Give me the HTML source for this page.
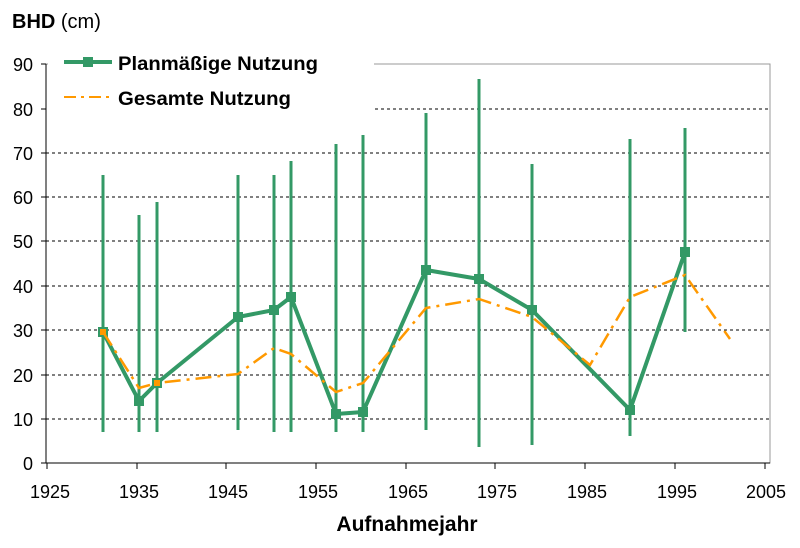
<!DOCTYPE html>
<html><head><meta charset="utf-8"><style>
body{margin:0;background:#fff}
svg{display:block;font-family:"Liberation Sans",Arial,sans-serif}
</style></head><body>
<svg width="800" height="548" viewBox="0 0 800 548" xmlns="http://www.w3.org/2000/svg">
<rect x="46" y="64" width="724" height="399" fill="#fff" stroke="#999" stroke-width="1"/>
<g stroke="#000" stroke-width="1" stroke-dasharray="3,3">
<line x1="46" y1="419" x2="770" y2="419"/>
<line x1="46" y1="375" x2="770" y2="375"/>
<line x1="46" y1="330" x2="770" y2="330"/>
<line x1="46" y1="286" x2="770" y2="286"/>
<line x1="46" y1="241" x2="770" y2="241"/>
<line x1="46" y1="197" x2="770" y2="197"/>
<line x1="46" y1="153" x2="770" y2="153"/>
<line x1="375" y1="109" x2="770" y2="109"/>
</g>
<line x1="375" y1="64" x2="770" y2="64" stroke="#999"/>
<g stroke="#000" stroke-width="1">
<line x1="46" y1="64" x2="46" y2="463"/>
<line x1="46" y1="463" x2="770" y2="463"/>
<line x1="41" y1="463" x2="46" y2="463"/><line x1="41" y1="419" x2="46" y2="419"/><line x1="41" y1="375" x2="46" y2="375"/><line x1="41" y1="330" x2="46" y2="330"/><line x1="41" y1="286" x2="46" y2="286"/><line x1="41" y1="241" x2="46" y2="241"/><line x1="41" y1="197" x2="46" y2="197"/><line x1="41" y1="153" x2="46" y2="153"/><line x1="41" y1="109" x2="46" y2="109"/><line x1="41" y1="64" x2="46" y2="64"/>
<line x1="47" y1="463" x2="47" y2="469"/><line x1="137" y1="463" x2="137" y2="469"/><line x1="226" y1="463" x2="226" y2="469"/><line x1="316" y1="463" x2="316" y2="469"/><line x1="406" y1="463" x2="406" y2="469"/><line x1="495" y1="463" x2="495" y2="469"/><line x1="585" y1="463" x2="585" y2="469"/><line x1="675" y1="463" x2="675" y2="469"/><line x1="765" y1="463" x2="765" y2="469"/>
</g>
<g font-size="18" text-anchor="end" fill="#000">
<text x="33" y="470">0</text><text x="33" y="426">10</text><text x="33" y="382">20</text><text x="33" y="337">30</text><text x="33" y="293">40</text><text x="33" y="248">50</text><text x="33" y="204">60</text><text x="33" y="160">70</text><text x="33" y="116">80</text><text x="33" y="71">90</text>
</g>
<g font-size="18" text-anchor="middle" fill="#000">
<text x="50" y="498">1925</text><text x="139" y="498">1935</text><text x="228" y="498">1945</text><text x="318" y="498">1955</text><text x="408" y="498">1965</text><text x="497" y="498">1975</text><text x="587" y="498">1985</text><text x="677" y="498">1995</text><text x="766" y="498">2005</text>
</g>
<text x="407" y="531" font-size="21" font-weight="bold" text-anchor="middle">Aufnahmejahr</text>
<text x="12" y="28" font-size="20"><tspan font-weight="bold">BHD</tspan> (cm)</text>
<g stroke="#339966" stroke-width="3">
<line x1="103" y1="175" x2="103" y2="432"/>
<line x1="139" y1="215" x2="139" y2="432"/>
<line x1="157" y1="202" x2="157" y2="432"/>
<line x1="238" y1="175" x2="238" y2="430"/>
<line x1="274" y1="175" x2="274" y2="432"/>
<line x1="291" y1="161" x2="291" y2="432"/>
<line x1="336" y1="144" x2="336" y2="432"/>
<line x1="363" y1="135" x2="363" y2="432"/>
<line x1="426" y1="113" x2="426" y2="430"/>
<line x1="479" y1="79" x2="479" y2="447"/>
<line x1="532" y1="164" x2="532" y2="445"/>
<line x1="630" y1="139" x2="630" y2="436"/>
<line x1="685" y1="128" x2="685" y2="332"/>
</g>
<polyline fill="none" stroke="#339966" stroke-width="4" stroke-linejoin="round" points="103,332 139,401 157,383 238,317 274,310 291,297 336,414 363,412 426,270 479,279 532,310 630,410 685,252"/>
<g fill="#339966">
<rect x="98" y="327" width="10" height="10"/><rect x="134" y="396" width="10" height="10"/><rect x="152" y="378" width="10" height="10"/><rect x="233" y="312" width="10" height="10"/><rect x="269" y="305" width="10" height="10"/><rect x="286" y="292" width="10" height="10"/><rect x="331" y="409" width="10" height="10"/><rect x="358" y="407" width="10" height="10"/><rect x="421" y="265" width="10" height="10"/><rect x="474" y="274" width="10" height="10"/><rect x="527" y="305" width="10" height="10"/><rect x="625" y="405" width="10" height="10"/><rect x="680" y="247" width="10" height="10"/>
</g>
<polyline fill="none" stroke="#ff9900" stroke-width="2.5" stroke-dasharray="16,6,3,6" points="103,332 139,388 157,383 238,374 274,348 291,354 336,392 363,383 426,308 479,299 532,317 590,365 630,297 685,275 730,339"/>
<g fill="#ff9900"><rect x="100" y="329" width="6" height="6"/><rect x="154" y="380" width="6" height="6"/></g>
<rect x="48" y="40" width="326" height="72" fill="#fff"/>
<line x1="64" y1="62" x2="112" y2="62" stroke="#339966" stroke-width="4"/>
<rect x="83" y="57" width="10" height="10" fill="#339966"/>
<line x1="64" y1="97" x2="112" y2="97" stroke="#ff9900" stroke-width="2" stroke-dasharray="12,5,3,5"/>
<text x="118" y="70" font-size="19.5" font-weight="bold" textLength="200" lengthAdjust="spacingAndGlyphs">Planmäßige Nutzung</text>
<text x="118" y="105" font-size="19.5" font-weight="bold" textLength="173" lengthAdjust="spacingAndGlyphs">Gesamte Nutzung</text>
<line x1="46" y1="64" x2="46" y2="112" stroke="#000"/>
<line x1="41" y1="64" x2="46" y2="64" stroke="#000"/><line x1="41" y1="109" x2="46" y2="109" stroke="#000"/>
</svg>
</body></html>
